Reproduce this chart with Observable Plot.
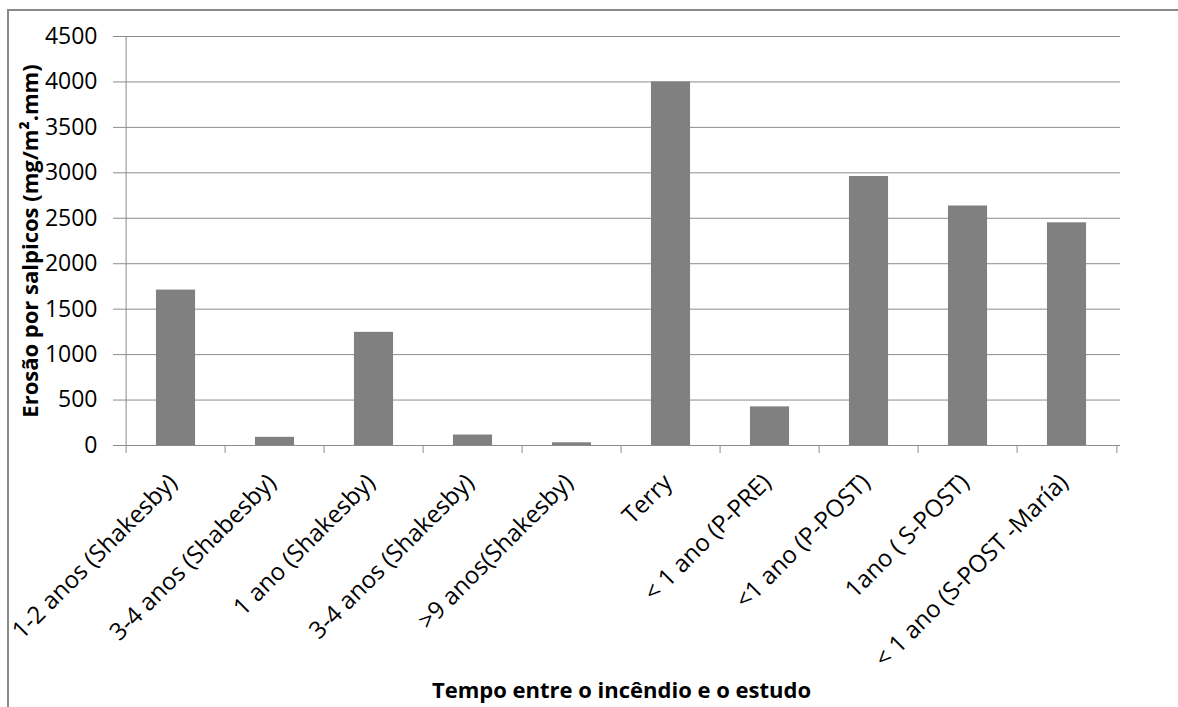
<!DOCTYPE html>
<html>
<head>
<meta charset="utf-8">
<script src="https://cdn.jsdelivr.net/npm/d3@7"></script>
<script src="https://cdn.jsdelivr.net/npm/@observablehq/plot@0.6"></script>
<style>
  body { margin: 0; background: #fff; }
  #chart { position: relative; width: 1178px; height: 707px; overflow: hidden; background: #fff; }
  #chart svg { position: absolute; left: 0; top: 0; }
  #chart .edge {
    position: absolute; left: 7px; top: 9px; right: -20px; bottom: -20px;
    border-left: 2px solid #8a8a8a; border-top: 2px solid #8a8a8a;
    pointer-events: none;
  }
</style>
</head>
<body>
<div id="chart"><div class="edge"></div></div>
<script>
// Splash erosion by time since fire / study
const categories = [
  "1-2 anos (Shakesby)",
  "3-4 anos (Shabesby)",
  "1 ano (Shakesby)",
  "3-4 anos (Shakesby)",
  ">9 anos(Shakesby)",
  "Terry",
  "< 1 ano (P-PRE)",
  "<1 ano (P-POST)",
  "1ano ( S-POST)",
  "< 1 ano (S-POST -María)"
];
const values = [1710, 90, 1245, 115, 30, 4000, 425, 2960, 2635, 2450];
const yTicks = [0, 500, 1000, 1500, 2000, 2500, 3000, 3500, 4000, 4500];
const xTitle = "Tempo entre o incêndio e o estudo";
const yTitle = "Erosão por salpicos (mg/m².mm)";

const data = categories.map((cat, i) => ({cat, value: values[i]}));

const width = 1178, height = 707;
const marginLeft = 122, marginRight = 58, marginTop = 36, marginBottom = 262;
const step = (width - marginLeft - marginRight) / categories.length;
const frameH = height - marginTop - marginBottom;
const lineColor = "#8c8c8c";
const font = "'Open Sans', sans-serif";

const chart = Plot.plot({
  width, height, marginLeft, marginRight, marginTop, marginBottom,
  style: {fontFamily: font, background: "transparent", color: "#000"},
  x: {type: "band", domain: categories, padding: 0, axis: null},
  y: {domain: [0, 4500], axis: null},
  marks: [
    Plot.gridY(yTicks, {stroke: lineColor, strokeOpacity: 1}),
    Plot.axisY(yTicks, {
      tickSize: 9, tickPadding: 16, stroke: lineColor, fill: "#000",
      fontSize: 23, fontFamily: font, label: null, tickFormat: d => String(d)
    }),
    // vertical axis line at the left edge of the first band
    Plot.ruleX([categories[0]], {dx: -step / 2, stroke: lineColor}),
    Plot.barY(data, {
      x: "cat", y: "value", fill: "#808080",
      insetLeft: step * 0.3, insetRight: step * 0.3
    }),
    Plot.ruleY([0], {stroke: lineColor}),
    // category boundary ticks below the baseline
    Plot.ruleX(categories, {dx: -step / 2, stroke: lineColor, insetTop: frameH, insetBottom: -8}),
    Plot.ruleX(categories.slice(-1), {dx: step / 2, stroke: lineColor, insetTop: frameH, insetBottom: -8}),
    Plot.text(categories, {
      x: d => d, frameAnchor: "bottom", rotate: -45,
      textAnchor: "end", lineAnchor: "middle",
      dx: -3, dy: 33, fontSize: 24, fill: "#000"
    }),
    Plot.text([xTitle], {
      frameAnchor: "bottom", dy: 252,
      fontSize: 22, fontWeight: "bold", fill: "#000"
    }),
    Plot.text([yTitle], {
      frameAnchor: "left", rotate: -90, dx: -92, textAnchor: "middle",
      fontSize: 22, fontWeight: "bold", fill: "#000"
    })
  ]
});

document.getElementById("chart").prepend(chart);
</script>
</body>
</html>
